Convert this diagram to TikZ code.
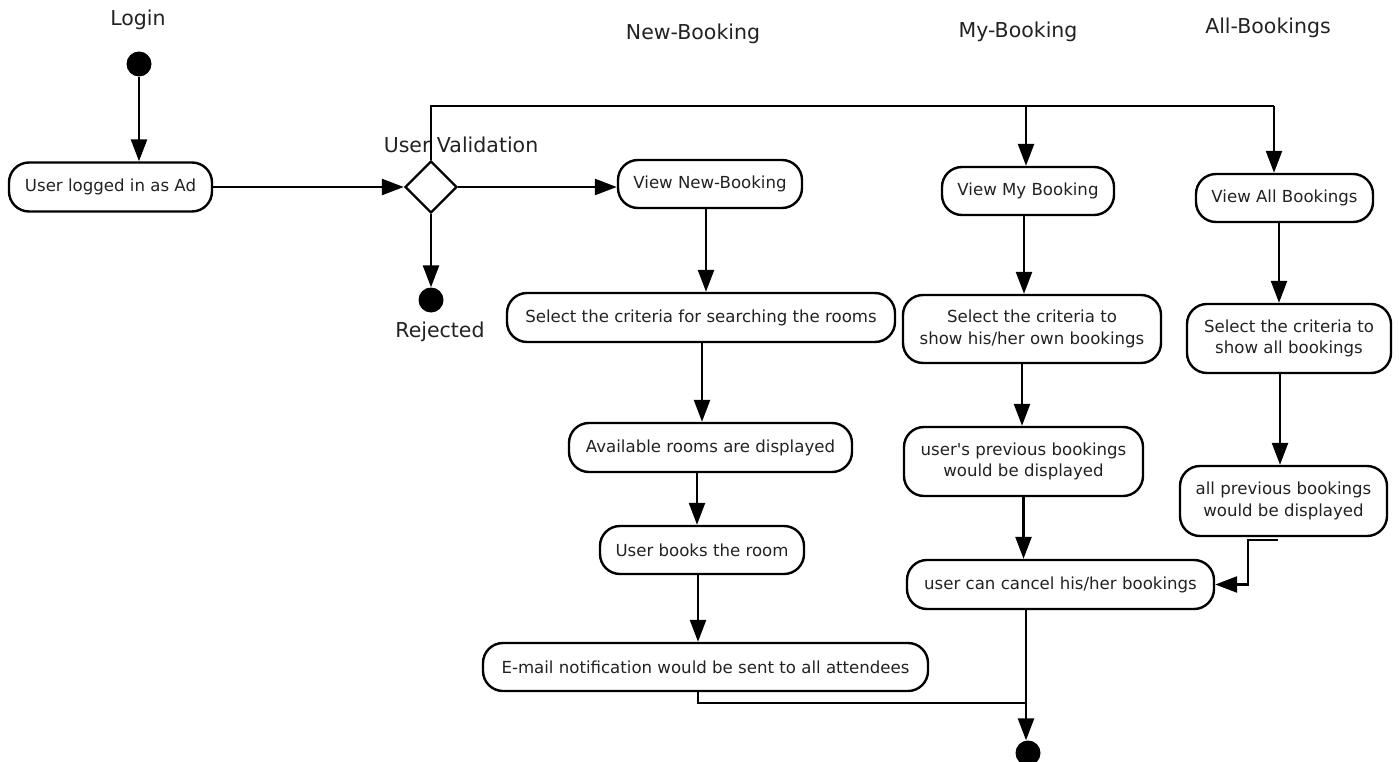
\documentclass[tikz,border=0pt]{standalone}
\usepackage{fontspec}
\setmainfont{DejaVu Sans}[Ligatures=TeXOff]
\usetikzlibrary{arrows.meta,shapes.geometric,calc}
\definecolor{txt}{RGB}{34,34,34}
\newcommand\myboxfont{\fontsize{16.6}{21.5}\selectfont}
\newcommand\mylblfont{\fontsize{20.5}{24}\selectfont}
\begin{document}
\begin{tikzpicture}[x=1pt,y=-1pt,
  act/.style={draw,line width=2.4pt,rounded corners=20pt,inner sep=0pt,align=center,font=\myboxfont,text=txt},
  lbl/.style={font=\mylblfont,text=txt,inner sep=0pt},
  conn/.style={line width=2.5pt},
  arr/.style={line width=2.5pt,-{Triangle[length=22pt,width=16pt]}},
  dot/.style={circle,fill,inner sep=0pt,minimum size=25pt},
  dec/.style={diamond,draw,line width=2.4pt,inner sep=0pt,minimum width=52pt,minimum height=52pt,aspect=1}]
\useasboundingbox (0,0) rectangle (1399,762);
\fill[white] (0,0) rectangle (1399,762);

% labels
\node[lbl] (lLogin) at (138,20) {Login};
\node[lbl] (lNew) at (693,34) {New-Booking};
\node[lbl] (lMy) at (1018,32) {My-Booking};
\node[lbl] (lAll) at (1268,28) {All-Bookings};
\node[lbl] (lVal) at (461,145) {User Validation};
\node[lbl] (lRej) at (440,332) {Rejected};

% nodes
\node[dot] (start) at (139,64) {};
\node[act,minimum width=203pt,minimum height=49pt] (b1) at (110.5,187) {User logged in as Ad};
\node[dec] (dia) at (431,187) {};
\node[dot] (rej) at (431,300) {};

\node[act,minimum width=184pt,minimum height=48pt] (vnb) at (710,184) {View New-Booking};
\node[act,minimum width=388pt,minimum height=49pt] (sel) at (701,317.5) {Select the criteria for searching the rooms};
\node[act,minimum width=283pt,minimum height=49pt] (avl) at (710.5,447.5) {Available rooms are displayed};
\node[act,minimum width=204pt,minimum height=48pt] (ubk) at (702,550) {User books the room};
\node[act,minimum width=445pt,minimum height=48pt] (eml) at (705.5,667) {E-mail notification would be sent to all attendees};

\node[act,minimum width=172pt,minimum height=48pt] (vmb) at (1028,191) {View My Booking};
\node[act,minimum width=258pt,minimum height=68pt] (smb) at (1032,329) {Select the criteria to\\show his/her own bookings};
\node[act,minimum width=239pt,minimum height=69pt] (upb) at (1023.5,461.5) {user's previous bookings\\would be displayed};
\node[act,minimum width=307pt,minimum height=49pt] (ucc) at (1060.5,584.5) {user can cancel his/her bookings};

\node[act,minimum width=177pt,minimum height=48pt] (vab) at (1284.5,198) {View All Bookings};
\node[act,minimum width=204pt,minimum height=69pt] (sab) at (1289,338.5) {Select the criteria to\\show all bookings};
\node[act,minimum width=207pt,minimum height=70pt] (apb) at (1283.5,501) {all previous bookings\\would be displayed};

\node[dot] (fin) at (1028,753) {};

\coordinate (topy) at (0,106);
\coordinate (mergey) at (0,703);

% connectors
\draw[arr] (start.south) -- (start.south |- b1.north);
\draw[arr] (b1.east) -- (b1.east -| dia.west);
\draw[arr] (dia.east) -- (dia.east -| vnb.west);
\draw[arr] (dia.south) -- (rej.north);
\draw[conn] (dia.north) -- (dia.north |- topy) -- ([xshift=-10.5pt]vab.north |- topy);
\draw[arr] ([xshift=-2pt]vmb.north |- topy) -- ([xshift=-2pt]vmb.north);
\draw[arr] ([xshift=-10.5pt]vab.north |- topy) -- ([xshift=-10.5pt]vab.north);

\draw[arr] ([xshift=-4pt]vnb.south) -- ([xshift=-4pt]vnb.south |- sel.north);
\draw[arr] ([xshift=1pt]sel.south) -- ([xshift=1pt]sel.south |- avl.north);
\draw[arr] ([xshift=-13.5pt]avl.south) -- ([xshift=-13.5pt]avl.south |- ubk.north);
\draw[arr] ([xshift=-4pt]ubk.south) -- ([xshift=-4pt]ubk.south |- eml.north);
\draw[conn] ([xshift=-7.5pt]eml.south) -- ([xshift=-7.5pt]eml.south |- mergey) -- ([xshift=-34.5pt]ucc.south |- mergey);

\draw[arr] ([xshift=-4pt]vmb.south) -- ([xshift=-4pt]vmb.south |- smb.north);
\draw[arr] ([xshift=-10pt]smb.south) -- ([xshift=-10pt]smb.south |- upb.north);
\draw[arr] (upb.south) -- (upb.south |- ucc.north);
\draw[arr] ([xshift=-34.5pt]ucc.south) -- ([xshift=-34.5pt]ucc.south |- fin.north);

\draw[arr] ([xshift=-5.5pt]vab.south) -- ([xshift=-5.5pt]vab.south |- sab.north);
\draw[arr] ([xshift=-9pt]sab.south) -- ([xshift=-9pt]sab.south |- apb.north);
\draw[arr] ([xshift=-5.5pt,yshift=-3pt]apb.south) -- ++(-30,0) |- (ucc.east);
\end{tikzpicture}
\end{document}
